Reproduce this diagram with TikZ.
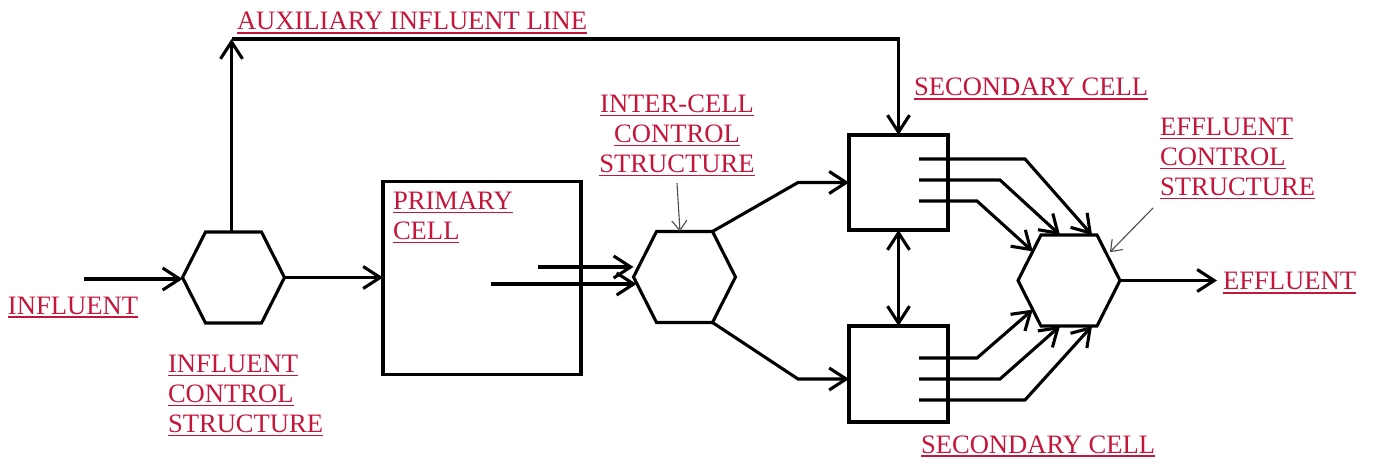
\documentclass[tikz,border=0pt]{standalone}
\usepackage{fontspec}
\setmainfont{Liberation Serif}
\usetikzlibrary{arrows.meta,calc}
\definecolor{lblred}{RGB}{196,22,58}
\newcommand\ulx[1]{\setbox0\hbox{#1}\rlap{\rule[-3.6pt]{\wd0}{1.4pt}}\box0}
\newcommand\hexoutline[1]{%
  \draw (#1.west) -- ([xshift=23pt]#1.north west) -- ([xshift=-23pt]#1.north east)
    -- (#1.east) -- ([xshift=-23pt]#1.south east) -- ([xshift=23pt]#1.south west) -- cycle;}
\begin{document}
\begin{tikzpicture}[x=1pt,y=-1pt,
  line width=3.1pt,
  >={Straight Barb[length=17pt,width=22pt]},
  hexa/.style={rectangle,minimum width=102pt,minimum height=91pt,inner sep=0pt,outer sep=0pt},
  cell/.style={draw,rectangle,inner sep=0pt,outer sep=0pt},
  lbl/.style={text=lblred,font=\fontsize{26.6}{30}\selectfont,inner sep=0pt,outer sep=0pt},
  pointer/.style={line width=1.1pt,draw=black!70,-{Straight Barb[length=10pt,width=15pt]}}]
\useasboundingbox (0,0) rectangle (1374,465);
% shapes
\node[hexa] (h1) at (233.5,277.5) {};
\node[hexa] (h2) at (684.5,277) {};
\node[hexa] (h3) at (1069,280.5) {};
\hexoutline{h1}
\hexoutline{h2}
\hexoutline{h3}
\node[cell,minimum width=198pt,minimum height=193pt] (pc) at (482,278) {};
\node[cell,minimum width=99pt,minimum height=95pt] (s1) at (898.5,182.5) {};
\node[cell,minimum width=99pt,minimum height=96pt] (s2) at (898.5,374) {};
% labels
\node[lbl,anchor=base west] (laux) at (237,30) {\ulx{AUXILIARY INFLUENT LINE}};
\node[lbl,anchor=base west] (linf) at (8,314) {\ulx{INFLUENT}};
\node[lbl,anchor=north west,align=left] (lics) at (168,355) {\ulx{INFLUENT}\\\ulx{CONTROL}\\\ulx{STRUCTURE}};
\node[lbl,anchor=north west,align=left] (lpc) at (393,192) {\ulx{PRIMARY}\\\ulx{CELL}};
\node[lbl,anchor=north,align=center] (lic) at (677,95) {\ulx{INTER-CELL}\\\ulx{CONTROL}\\\ulx{STRUCTURE}};
\node[lbl,anchor=base west] (ls1) at (914,96) {\ulx{SECONDARY CELL}};
\node[lbl,anchor=base west] (ls2) at (921,453) {\ulx{SECONDARY CELL}};
\node[lbl,anchor=north west,align=left] (lec) at (1160,118) {\ulx{EFFLUENT}\\\ulx{CONTROL}\\\ulx{STRUCTURE}};
\node[lbl,anchor=base west] (leff) at (1223,290) {\ulx{EFFLUENT}};
% connectors
\coordinate (inf) at (84,279);
\draw[->] (inf) -- (inf -| h1.west);
\draw[->] (h1.east) -- (h1.east -| pc.west);
\coordinate (aux) at ([xshift=-2pt]h1.north |- 0,39);
\draw[->] (aux |- h1.north) -- (aux);
\draw[->] (aux) -| (s1.north);
\coordinate (pa) at (538,267);
\coordinate (pb) at (491,284);
\draw[->] (pa) -- (pa -| h2.west);
\draw[->] (pb) -- ([xshift=3pt]pb -| h2.west);
\coordinate (k1) at (798,182.5);
\coordinate (k2) at (798,379);
\draw[->] ([xshift=-23pt]h2.north east) -- (k1) -- (s1.west);
\draw[->] ([xshift=-23pt]h2.south east) -- (k2) -- (k2 -| s2.west);
\draw[<->] (s1.south) -- (s2.north);
% outlets from secondary cells to effluent control structure
\coordinate (t1) at ([xshift=23pt]h3.north);
\coordinate (t2) at ([xshift=-9pt]h3.north);
\coordinate (t3) at ($(h3.west)!0.64!([xshift=23pt]h3.north west)$);
\coordinate (t4) at ($(h3.west)!0.64!([xshift=23pt]h3.south west)$);
\coordinate (t5) at ([xshift=-9pt]h3.south);
\coordinate (t6) at ([xshift=23pt]h3.south);
\foreach \n/\y/\bx in {1/159/1025, 2/180/1000, 3/201/977, 4/358/977, 5/379/1000, 6/400/1025}{
  \coordinate (o\n) at (919,\y);
  \coordinate (b\n) at (\bx,\y);
  \draw[->] (o\n) -- (b\n) -- (t\n);
}
\coordinate (eo) at (1217,280.5);
\draw[->] (h3.east) -- (eo);
% pointers
\draw[pointer] ([yshift=-7pt]lic.south) -- ([xshift=3pt]lic.south |- h2.north);
\coordinate (ecs) at (1153,208);
\draw[pointer,shorten >=4pt] (ecs) -- ($([xshift=-23pt]h3.north east)!0.44!(h3.east)$);
\end{tikzpicture}
\end{document}
